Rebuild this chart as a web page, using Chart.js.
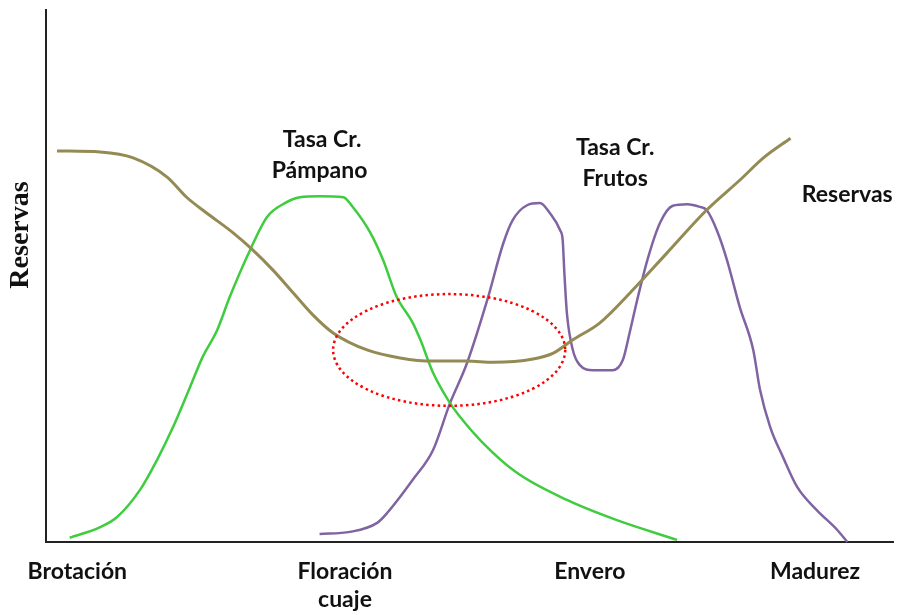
<!DOCTYPE html>
<html>
<head>
<meta charset="utf-8">
<script src="https://cdn.jsdelivr.net/npm/chart.js@4.4.1/dist/chart.umd.min.js"></script>
<style>
  html, body { margin: 0; padding: 0; background: #fff; }
  #wrap { width: 897px; height: 615px; position: relative; }
</style>
</head>
<body>
<div id="wrap"><canvas id="grafico"></canvas></div>
<script>
// datos (eje x: avance de la temporada 0-100, eje y: nivel relativo 0-100)
const etapas = ['Brotación', ['Floración', 'cuaje'], 'Envero', 'Madurez'];
const etapasX = [3.7, 35.3, 64.2, 90.8];

const reservasX = [1.3, 6.4, 10.3, 14.3, 16.6, 19.0, 22.1, 24.4, 26.8, 29.2, 31.5, 33.9, 37.9, 41.8, 45.7, 49.7, 52.8, 57.5, 59.9, 62.2, 65.4, 69.3, 73.3, 78.0, 81.9, 84.7, 87.9];
const reservasY = [73.5, 73.3, 72.2, 68.6, 64.8, 61.8, 58.1, 54.9, 51.1, 46.8, 42.7, 39.3, 36.1, 34.6, 34.0, 34.0, 33.8, 34.4, 35.5, 38.0, 41.2, 47.4, 54.3, 62.4, 68.0, 72.2, 75.9];

const pampanoX = [2.8, 6.4, 8.4, 11.1, 13.1, 15.0, 17.0, 18.5, 20.2, 21.7, 24.1, 26.1, 28.2, 30.0, 32.3, 35.1, 36.2, 38.3, 39.8, 41.4, 43.3, 44.2, 45.7, 47.7, 48.9, 51.6, 55.6, 61.5, 67.4, 74.5];
const pampanoY = [0.8, 2.8, 4.7, 9.8, 15.4, 21.6, 29.1, 34.8, 39.8, 46.1, 54.9, 61.1, 63.7, 64.8, 65.0, 64.8, 63.0, 58.1, 53.0, 46.1, 41.2, 38.0, 31.8, 26.1, 23.5, 18.6, 13.0, 7.9, 4.1, 0.4];

const frutosX = [32.3, 35.9, 39.1, 40.3, 43.3, 45.7, 47.7, 49.7, 52.1, 54.0, 55.1, 56.8, 58.3, 59.5, 60.7, 61.0, 61.2, 61.5, 62.2, 63.0, 64.6, 66.9, 68.1, 68.9, 69.8, 71.0, 72.5, 74.0, 75.7, 77.2, 78.0, 79.2, 80.4, 81.9, 83.5, 84.3, 85.5, 87.0, 88.7, 91.0, 93.4, 94.6];
const frutosY = [1.5, 1.9, 3.6, 5.5, 11.7, 17.3, 26.1, 33.6, 45.5, 56.2, 60.5, 63.3, 63.7, 61.8, 58.6, 56.8, 50.6, 43.0, 36.1, 33.3, 32.3, 32.3, 34.2, 39.3, 45.5, 53.0, 60.0, 63.2, 63.5, 63.0, 62.4, 58.6, 53.0, 44.2, 36.1, 28.6, 21.6, 16.0, 10.3, 6.0, 2.3, 0.0];

// zona marcada con la elipse roja (centro y radios en unidades de datos)
const zonaCentro = [47.6, 36.1];
const zonaRadio = [13.7, 10.5];

function puntos(xs, ys) {
  return xs.map((x, i) => ({ x, y: ys[i] }));
}

const FONT = 'Lato, "Open Sans", sans-serif';

// textos y elipse sobre el gráfico
const anotaciones = {
  id: 'anotaciones',
  afterDatasetsDraw(chart) {
    const { ctx, scales } = chart;
    const xs = scales.x, ys = scales.y;

    // elipse punteada
    ctx.save();
    ctx.beginPath();
    const cx = xs.getPixelForValue(zonaCentro[0]);
    const cy = ys.getPixelForValue(zonaCentro[1]);
    const rx = xs.getPixelForValue(zonaCentro[0] + zonaRadio[0]) - cx;
    const ry = cy - ys.getPixelForValue(zonaCentro[1] + zonaRadio[1]);
    ctx.ellipse(cx, cy, rx, ry, 0, 0, Math.PI * 2);
    ctx.strokeStyle = '#ff0000';
    ctx.lineWidth = 2.5;
    ctx.setLineDash([2.5, 3.2]);
    ctx.stroke();
    ctx.restore();

    // rótulos de las curvas
    ctx.save();
    ctx.fillStyle = '#111';
    ctx.font = 'bold 23px ' + FONT;
    ctx.textAlign = 'center';
    ctx.textBaseline = 'middle';
    ctx.fillText('Tasa Cr.', xs.getPixelForValue(32.6), ys.getPixelForValue(75.6));
    ctx.fillText('Pámpano', xs.getPixelForValue(32.3), ys.getPixelForValue(69.8));
    ctx.fillText('Tasa Cr.', xs.getPixelForValue(67.2), ys.getPixelForValue(74.1));
    ctx.fillText('Frutos', xs.getPixelForValue(67.2), ys.getPixelForValue(68.4));
    ctx.fillText('Reservas', xs.getPixelForValue(94.6), ys.getPixelForValue(65.3));

    // título eje y
    ctx.translate(21, 235);
    ctx.rotate(-Math.PI / 2);
    ctx.font = 'bold 28px "Liberation Serif", "DejaVu Serif", serif';
    ctx.fillText('Reservas', 0, 0);
    ctx.restore();
  }
};

new Chart(document.getElementById('grafico'), {
  type: 'line',
  data: {
    datasets: [
      { label: 'Reservas', data: puntos(reservasX, reservasY), borderColor: '#948a54', borderWidth: 3 },
      { label: 'Tasa Cr. Pámpano', data: puntos(pampanoX, pampanoY), borderColor: '#3fcc3f', borderWidth: 2.5 },
      { label: 'Tasa Cr. Frutos', data: puntos(frutosX, frutosY), borderColor: '#8064a2', borderWidth: 2.5 }
    ]
  },
  options: {
    responsive: true,
    maintainAspectRatio: false,
    animation: false,
    clip: false,
    layout: { padding: { top: 10, right: 4, left: 0, bottom: 0 } },
    elements: {
      point: { radius: 0 },
      line: { cubicInterpolationMode: 'monotone', fill: false }
    },
    plugins: {
      legend: { display: false },
      tooltip: { enabled: false }
    },
    scales: {
      x: {
        type: 'linear',
        min: 0,
        max: 100,
        grid: { display: false },
        border: { display: true, color: '#222', width: 2 },
        afterBuildTicks(axis) {
          axis.ticks = etapasX.map(v => ({ value: v }));
        },
        afterFit(scale) { scale.height = 73; },
        ticks: {
          autoSkip: false,
          maxRotation: 0,
          padding: 8,
          color: '#111',
          font: { family: FONT, size: 23, weight: 'bold', lineHeight: 1.2 },
          callback: (v) => etapas[etapasX.indexOf(v)]
        }
      },
      y: {
        min: 0,
        max: 100,
        grid: { display: false },
        border: { display: true, color: '#222', width: 2 },
        ticks: { display: false },
        afterFit(scale) { scale.width = 46; }
      }
    }
  },
  plugins: [anotaciones]
});
</script>
</body>
</html>
